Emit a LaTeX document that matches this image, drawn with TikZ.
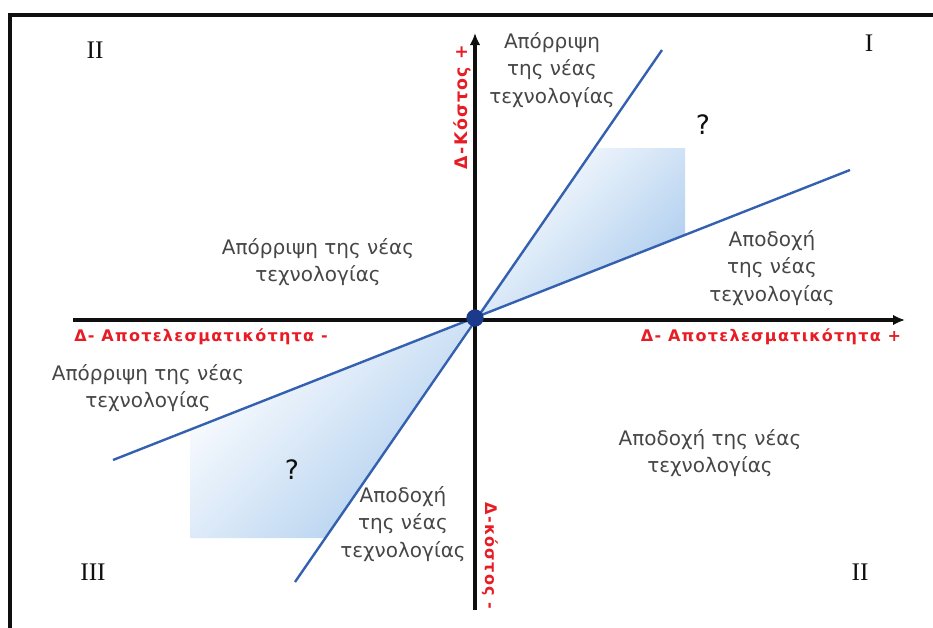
\documentclass[tikz,border=0pt]{standalone}
\usepackage{fontspec}
\setmainfont{DejaVu Sans}
\newfontfamily\romfont{Liberation Serif}
\newfontfamily\axfont{DejaVu Sans}[LetterSpace=8]
\usepackage{xcolor}
\usetikzlibrary{arrows.meta}
\definecolor{figline}{RGB}{15,15,15}
\definecolor{figtext}{RGB}{70,70,70}
\definecolor{figred}{RGB}{232,28,36}
\definecolor{figblue}{RGB}{52,96,176}
\definecolor{figdot}{RGB}{28,58,140}
\definecolor{figshade}{RGB}{172,204,238}
\tikzset{
  frm/.style  ={draw=figline, line width=3pt},
  axs/.style  ={draw=figline, line width=3pt, -{Latex[length=9pt,width=8pt]}},
  bnd/.style  ={draw=figblue, line width=1.8pt},
  reg/.style  ={top color=white, bottom color=figshade, shading angle=45},
  txt/.style  ={text=figtext, font=\fontsize{15}{20.5}\selectfont, align=center, inner sep=1pt},
  qst/.style  ={text=figline, font=\fontsize{20}{24}\selectfont, inner sep=1pt},
  axl/.style  ={text=figred, font=\axfont\bfseries\fontsize{12}{14}\selectfont, inner sep=1pt},
  rom/.style  ={text=figline, font=\romfont\fontsize{19}{22}\selectfont, inner sep=1pt},
}
\begin{document}
\begin{tikzpicture}[x=0.75pt,y=-0.75pt]
  \useasboundingbox (0,0) rectangle (933,628);
  \draw[frm] (10,628) -- (10,15) -- (933,15);
  \coordinate (O) at (475,318);
  \coordinate (steepA) at (295,582);
  \coordinate (steepB) at (662,50);
  \coordinate (flatA) at (113,460);
  \coordinate (flatB) at (850,170);
  \shade[reg] (O) -- (594,148) -- (685,148) -- (685,235) -- cycle;
  \shade[reg] (O) -- (190,430) -- (190,538) -- (325,538) -- cycle;
  \draw[bnd] (steepA) -- (steepB);
  \draw[bnd] (flatA) -- (flatB);
  \draw[axs] (73,320) -- (905,320);
  \draw[axs] (475,610) -- (475,33);
  \fill[figdot] (O) circle (6.5pt);
  \node[axl] (effplus) at (771,337) {Δ- Αποτελεσματικότητα +};
  \node[axl] (effminus) at (201,337) {Δ- Αποτελεσματικότητα -};
  \node[axl, font=\axfont\bfseries\fontsize{13}{15}\selectfont, rotate=90] (costplus) at (462,107) {Δ-Κόστος +};
  \node[axl, rotate=-90] (costminus) at (490,556) {Δ-κόστος -};
  \node[txt] (rejtop) at (552,70) {Απόρριψη\\της νέας\\τεχνολογίας};
  \node[txt] (acctop) at (772,268) {Αποδοχή\\της νέας\\τεχνολογίας};
  \node[txt] (rejmid) at (318,262) {Απόρριψη της νέας\\τεχνολογίας};
  \node[txt] (rejleft) at (148,388) {Απόρριψη της νέας\\τεχνολογίας};
  \node[txt] (accbot) at (403,524) {Αποδοχή\\της νέας\\τεχνολογίας};
  \node[txt] (accright) at (710,453) {Αποδοχή της νέας\\τεχνολογίας};
  \node[qst] (qtop) at (703,125) {?};
  \node[qst] (qbot) at (292,470) {?};
  \node[rom] (qtwoa) at (95,50) {II};
  \node[rom] (qone) at (869,43) {I};
  \node[rom] (qthree) at (93,572) {III};
  \node[rom] (qtwob) at (860,572) {II};
\end{tikzpicture}
\end{document}
